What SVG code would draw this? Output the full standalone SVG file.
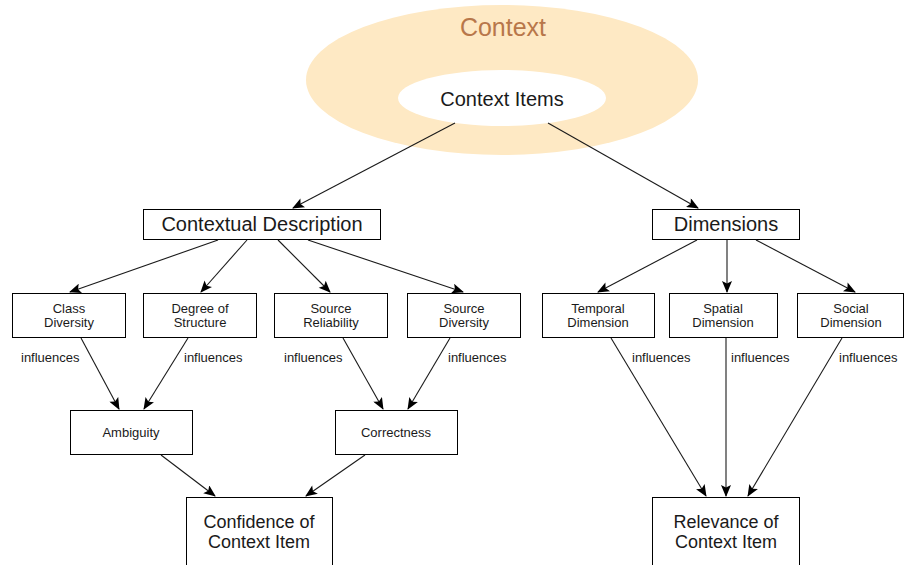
<svg xmlns="http://www.w3.org/2000/svg" width="904" height="565" viewBox="0 0 904 565">
<defs>
<style>
.box{fill:#fff;stroke:#000;stroke-width:1}
.t{font-family:"Liberation Sans",Arial,sans-serif;fill:#1a1a1a;text-anchor:middle}
.big{font-size:20px}
.med{font-size:18px}
.sm{font-size:13px}
.lab{font-family:"Liberation Sans",Arial,sans-serif;font-size:13px;fill:#1a1a1a}
.e{stroke:#1a1a1a;stroke-width:1.1;fill:none;marker-end:url(#ah)}
</style>
<marker id="ah" viewBox="0 0 12 10" refX="11" refY="5" markerWidth="13" markerHeight="10" markerUnits="userSpaceOnUse" orient="auto">
<path d="M0,0 L12,5 L0,10 L2.5,5 z" fill="#000"/>
</marker>
</defs>
<rect width="904" height="565" fill="#fff"/>
<g id="context">
<ellipse cx="502" cy="80" rx="196" ry="75" fill="#fee9c4"/>
<text x="503" y="36" class="t" style="font-size:25px;fill:#b8774a">Context</text>
</g>
<g id="context-items">
<ellipse cx="502" cy="98" rx="104" ry="28" fill="#fff"/>
<text x="502" y="106" class="t big">Context Items</text>
</g>
<g id="contextual-description">
<rect x="143.5" y="209.5" width="237" height="30" class="box"/>
<text x="262" y="231" class="t big">Contextual Description</text>
</g>
<g id="dimensions">
<rect x="652.5" y="209.5" width="147" height="30" class="box"/>
<text x="726" y="231" class="t big">Dimensions</text>
</g>
<g id="class-diversity">
<rect x="12.5" y="293.5" width="113" height="44" class="box"/>
<text x="69" y="313" class="t sm">Class</text><text x="69" y="327" class="t sm">Diversity</text>
</g>
<g id="degree-of-structure">
<rect x="143.5" y="293.5" width="113" height="44" class="box"/>
<text x="200" y="313" class="t sm">Degree of</text><text x="200" y="327" class="t sm">Structure</text>
</g>
<g id="source-reliability">
<rect x="274.5" y="293.5" width="113" height="44" class="box"/>
<text x="331" y="313" class="t sm">Source</text><text x="331" y="327" class="t sm">Reliability</text>
</g>
<g id="source-diversity">
<rect x="407.5" y="293.5" width="113" height="44" class="box"/>
<text x="464" y="313" class="t sm">Source</text><text x="464" y="327" class="t sm">Diversity</text>
</g>
<g id="temporal-dimension">
<rect x="542.5" y="293.5" width="112" height="44" class="box"/>
<text x="598" y="313" class="t sm">Temporal</text><text x="598" y="327" class="t sm">Dimension</text>
</g>
<g id="spatial-dimension">
<rect x="669.5" y="293.5" width="108" height="44" class="box"/>
<text x="723" y="313" class="t sm">Spatial</text><text x="723" y="327" class="t sm">Dimension</text>
</g>
<g id="social-dimension">
<rect x="797.5" y="293.5" width="106" height="44" class="box"/>
<text x="851" y="313" class="t sm">Social</text><text x="851" y="327" class="t sm">Dimension</text>
</g>
<g id="ambiguity">
<rect x="70.5" y="410.5" width="122" height="44" class="box"/>
<text x="131" y="437" class="t sm">Ambiguity</text>
</g>
<g id="correctness">
<rect x="335.5" y="410.5" width="122" height="44" class="box"/>
<text x="396" y="437" class="t sm">Correctness</text>
</g>
<g id="confidence">
<rect x="186.5" y="497.5" width="146" height="80" class="box"/>
<text x="259" y="528" class="t med">Confidence of</text><text x="259" y="548" class="t med">Context Item</text>
</g>
<g id="relevance">
<rect x="652.5" y="497.5" width="147" height="80" class="box"/>
<text x="726" y="528" class="t med">Relevance of</text><text x="726" y="548" class="t med">Context Item</text>
</g>
<g id="connectors">
<line x1="455" y1="123" x2="293" y2="208" class="e"/>
<line x1="548" y1="123" x2="698" y2="208" class="e"/>
<line x1="218" y1="240" x2="70" y2="292" class="e"/>
<line x1="247" y1="240" x2="201" y2="292" class="e"/>
<line x1="278" y1="240" x2="330" y2="292" class="e"/>
<line x1="308" y1="240" x2="463" y2="292" class="e"/>
<line x1="697" y1="240" x2="598" y2="292" class="e"/>
<line x1="727" y1="240" x2="727" y2="292" class="e"/>
<line x1="756" y1="240" x2="855" y2="292" class="e"/>
<line x1="81" y1="338" x2="119" y2="409" class="e"/>
<line x1="188" y1="338" x2="144" y2="409" class="e"/>
<line x1="343" y1="338" x2="383" y2="409" class="e"/>
<line x1="450" y1="338" x2="408" y2="409" class="e"/>
<line x1="161" y1="455" x2="215" y2="496" class="e"/>
<line x1="365" y1="455" x2="306" y2="496" class="e"/>
<line x1="611" y1="338" x2="706" y2="496" class="e"/>
<line x1="726" y1="338" x2="726" y2="496" class="e"/>
<line x1="842" y1="338" x2="748" y2="496" class="e"/>
<text x="21" y="362" class="lab">influences</text>
<text x="184" y="362" class="lab">influences</text>
<text x="284" y="362" class="lab">influences</text>
<text x="448" y="362" class="lab">influences</text>
<text x="632" y="362" class="lab">influences</text>
<text x="731" y="362" class="lab">influences</text>
<text x="839" y="362" class="lab">influences</text>
</g>
</svg>
